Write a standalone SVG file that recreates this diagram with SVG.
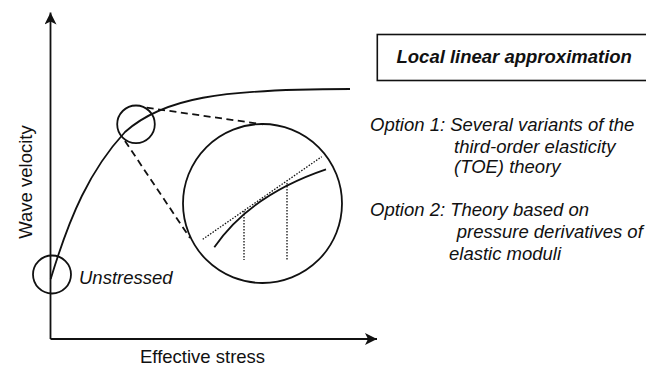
<svg xmlns="http://www.w3.org/2000/svg" width="646" height="366" viewBox="0 0 646 366">
<style>
text{font-family:"Liberation Sans",Arial,sans-serif;font-size:18.5px;fill:#111}
.it{font-style:italic}
.bi{font-style:italic;font-weight:bold}
.ln{fill:none;stroke:#111;stroke-width:1.8}
.dash{fill:none;stroke:#111;stroke-width:1.8;stroke-dasharray:7 4.5}
.dot{fill:none;stroke:#111;stroke-width:1.3;stroke-dasharray:1.5 1.5}
</style>
<defs>
<marker id="arr" viewBox="0 0 12 12" refX="12" refY="6" markerWidth="12" markerHeight="12" markerUnits="userSpaceOnUse" orient="auto">
<path d="M0,0 L12,6 L0,12 L3,6 Z" fill="#111"/>
</marker>
</defs>
<rect width="646" height="366" fill="#fff"/>
<g id="axes">
<line class="ln" x1="50.5" y1="339" x2="50.5" y2="12.5" stroke-width="2" marker-end="url(#arr)"/>
<line class="ln" x1="50.5" y1="339" x2="377" y2="339" stroke-width="2" marker-end="url(#arr)"/>
<text x="31.5" y="182" text-anchor="middle" transform="rotate(-90 31.5 182)">Wave velocity</text>
<text x="140" y="362.5">Effective stress</text>
</g>
<g id="curve">
<path class="ln" d="M50.7,279 C70,215 90,170 125,132 C163,98 220,89 350,89"/>
</g>
<g id="unstressed">
<circle class="ln" cx="52" cy="274.5" r="19"/>
<text class="it" x="79" y="284.3">Unstressed</text>
</g>
<g id="zoom-circle">
<circle class="ln" cx="136" cy="124.3" r="18.8"/>
</g>
<g id="connectors">
<line class="dash" x1="146.7" y1="107.7" x2="263" y2="124.3"/>
<line class="dash" x1="125" y1="141" x2="190" y2="238"/>
</g>
<g id="magnified">
<circle class="ln" cx="262.5" cy="203.5" r="79.5"/>
<path class="ln" d="M214.3,247.3 Q250,195 326,169.3"/>
<line class="dot" x1="202.7" y1="239.3" x2="321.7" y2="156.7"/>
<line class="dot" x1="244" y1="211" x2="244" y2="260"/>
<line class="dot" x1="287" y1="183" x2="287" y2="260"/>
</g>
<g id="title">
<rect x="377.3" y="34.5" width="280" height="46" fill="none" stroke="#111" stroke-width="1.6"/>
<text class="bi" x="396.5" y="63.3">Local linear approximation</text>
</g>
<g id="options">
<text class="it" x="370" y="130.7">Option 1: Several variants of the</text>
<text class="it" x="454" y="153.3">third-order elasticity</text>
<text class="it" x="454" y="173">(TOE) theory</text>
<text class="it" x="370" y="216">Option 2: Theory based on</text>
<text class="it" x="456.7" y="238.3">pressure derivatives of</text>
<text class="it" x="449" y="260">elastic moduli</text>
</g>
</svg>
